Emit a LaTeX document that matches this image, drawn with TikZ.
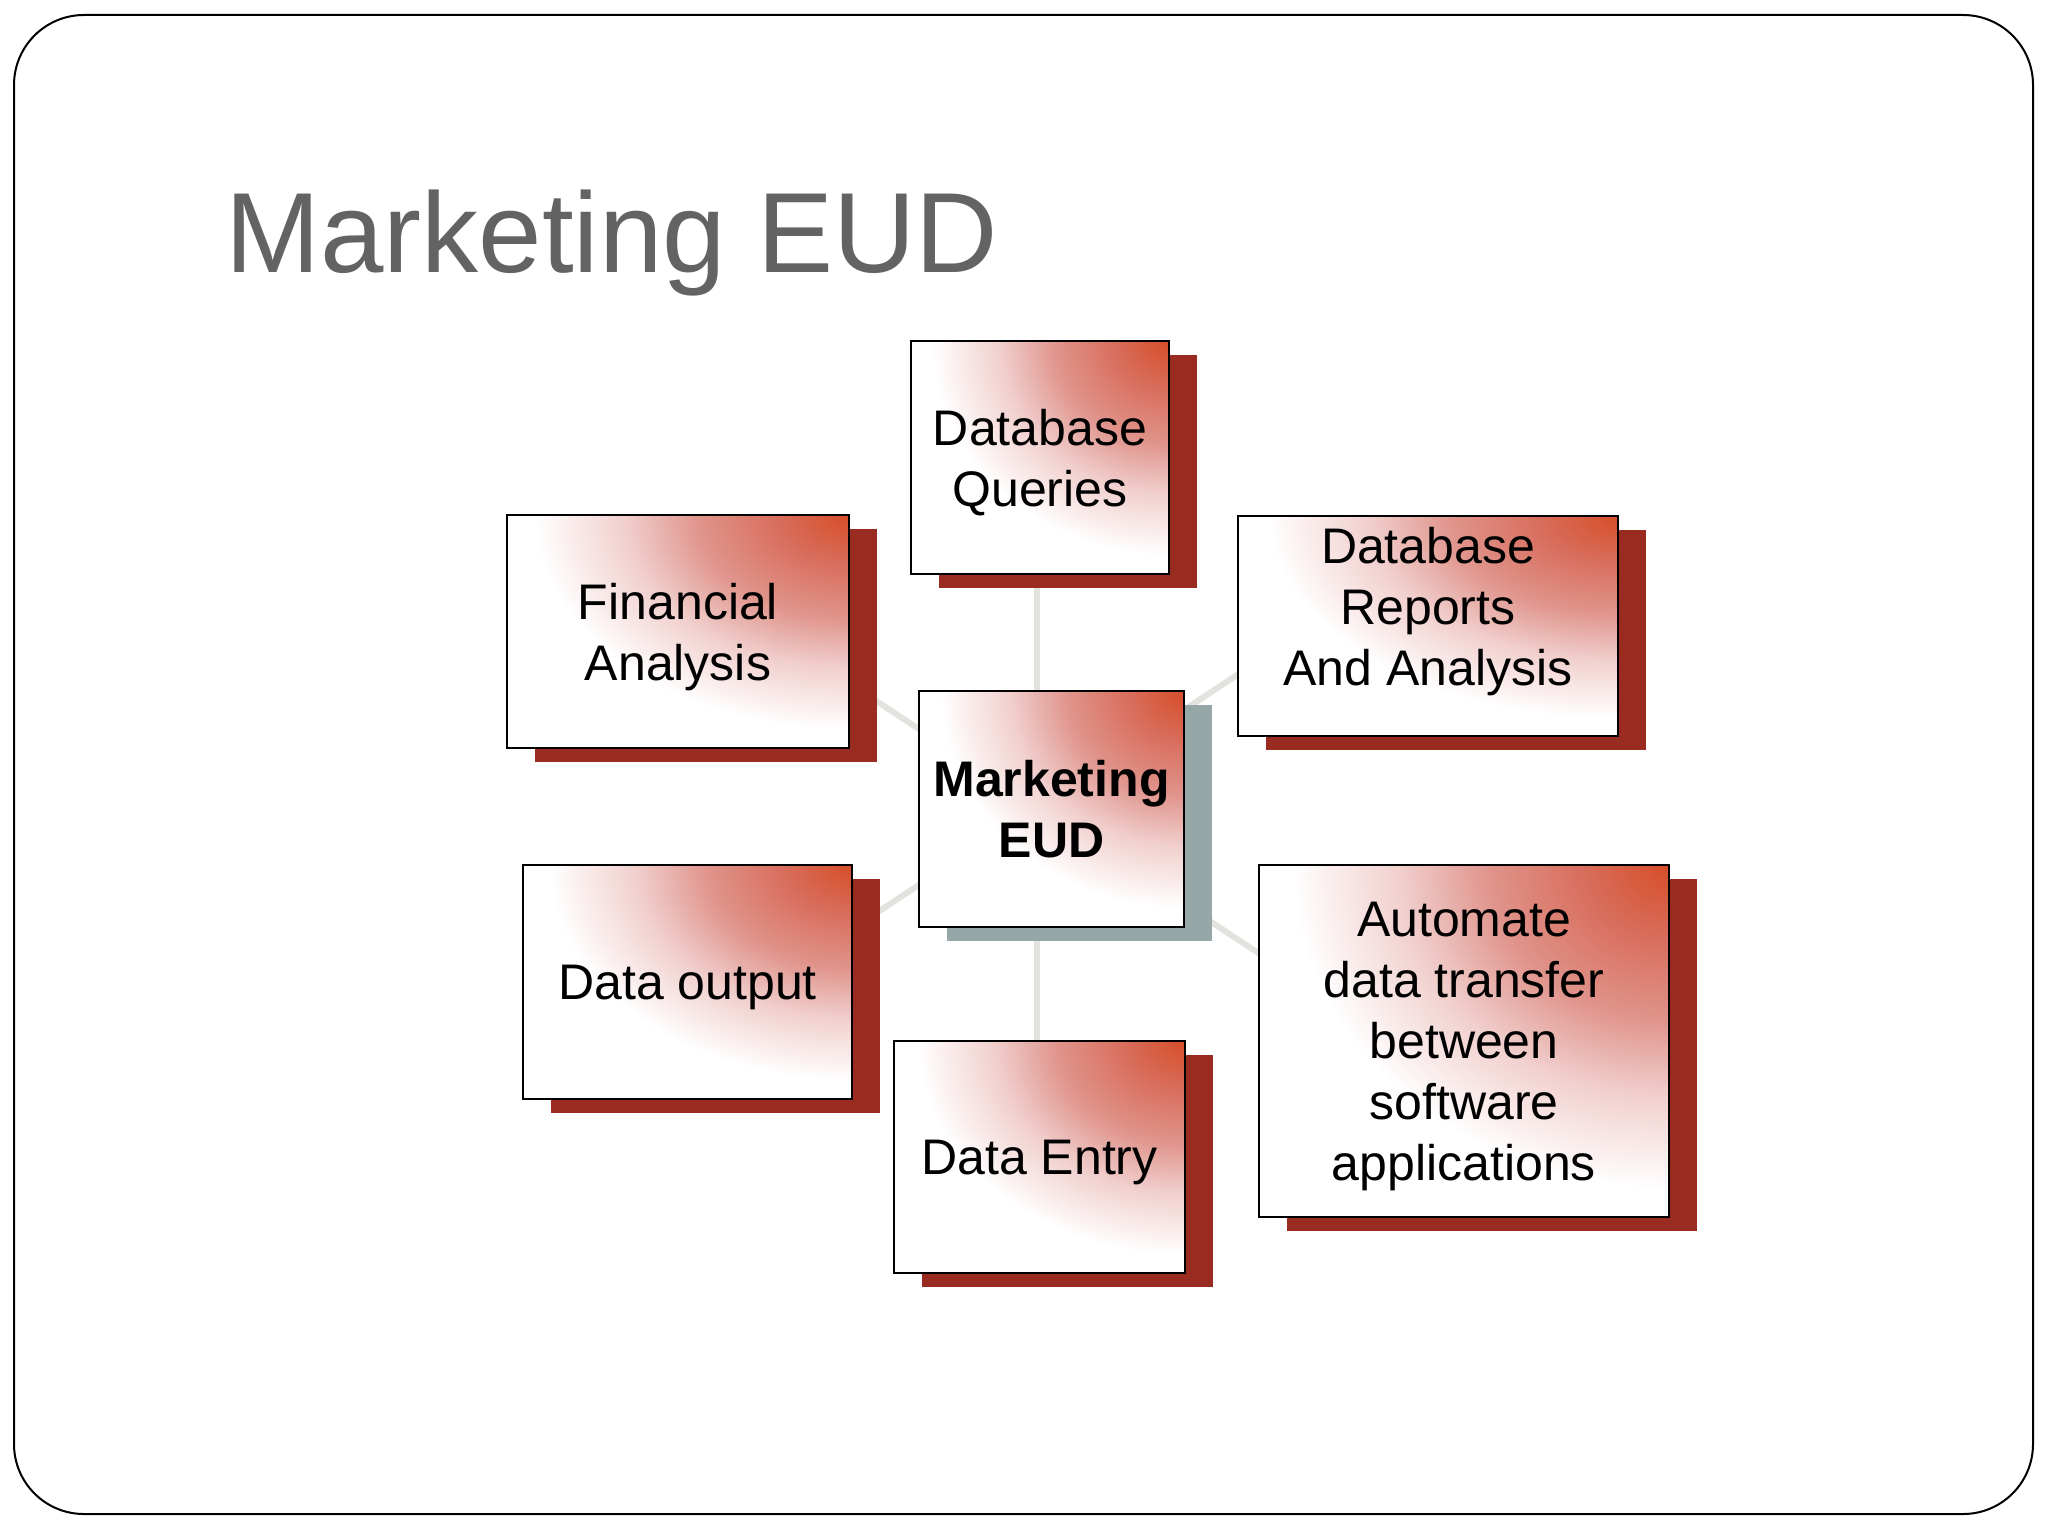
\documentclass[tikz,border=0pt]{standalone}
\usepackage{fontspec}
\setmainfont{Liberation Sans}
\usepackage{tikz}
\usetikzlibrary{backgrounds, calc, positioning, shadows}

\definecolor{glowA}{RGB}{214,78,40}
\definecolor{glowB}{RGB}{216,108,90}
\definecolor{glowC}{RGB}{224,148,140}
\definecolor{glowD}{RGB}{241,208,206}
\definecolor{boxshadow}{RGB}{154,43,32}
\definecolor{hubshadow}{RGB}{149,168,167}
\definecolor{spokegray}{RGB}{226,226,222}
\definecolor{titlegray}{RGB}{99,99,99}

\pgfdeclareradialshading{cornerglow}{\pgfpointorigin}{%
  color(0bp)=(glowA); color(5bp)=(glowB); color(11bp)=(glowC);
  color(16.5bp)=(glowD); color(23bp)=(white); color(50bp)=(white)}

\begin{document}
\begin{tikzpicture}[x=0.5pt, y=-0.5pt,
    eudbox/.style={rectangle, draw=black, line width=1pt, fill=white, inner sep=0pt, align=center,
      font=\fontsize{25}{30.5}\selectfont,
      path picture={\shade[shading=cornerglow] (path picture bounding box.south west) rectangle
        ($(path picture bounding box.south west)!2!(path picture bounding box.north east)$);}},
    taskbox/.style={eudbox, text depth=-1pt, general shadow={fill=boxshadow, shadow xshift=14pt, shadow yshift=-7pt}},
    hubbox/.style={eudbox, font=\bfseries\fontsize{25}{30.5}\selectfont,
      general shadow={fill=hubshadow, shadow xshift=14pt, shadow yshift=-7pt}},
    spokeline/.style={draw=spokegray, line width=3pt},
    titletext/.style={text=titlegray, font=\fontsize{57}{68}\selectfont, inner sep=0pt},
    ]
    \useasboundingbox (0,0) rectangle (2048,1536);
    \draw[line width=1pt, rounded corners=35pt] (14,15) rectangle (2033,1514);

    %Nodes
    \node[titletext, anchor=base west] (title) at (225,272) {Marketing EUD};
    \node[hubbox, minimum width=132.5pt, minimum height=118pt] (mkt) at (1051.5,809) {Marketing\\EUD};
    \node[taskbox, minimum width=129pt, minimum height=116.5pt] (dbq) at (1040,457.5) {Database\\Queries};
    \node[taskbox, minimum width=171pt, minimum height=116.5pt] (fin) at (678,631.5) {Financial\\Analysis};
    \node[taskbox, minimum width=190pt, minimum height=110pt, text depth=20pt] (dbr) at (1428,626) {Database\\Reports\\And Analysis};
    \node[taskbox, minimum width=164.5pt, minimum height=117pt] (out) at (687.5,982) {Data output};
    \node[taskbox, minimum width=145.5pt, minimum height=116pt] (ent) at (1039.5,1157) {Data Entry};
    \node[taskbox, minimum width=205pt, minimum height=176pt] (aut) at (1464,1041) {Automate\\data transfer\\between\\software\\applications};

    %Lines
    \coordinate (hub) at (1037,807);
    \coordinate (finend) at (787,642);
    \coordinate (dbrend) at (1287,642);
    \coordinate (outend) at (787,972);
    \coordinate (autend) at (1287,972);
    \begin{scope}[on background layer]
      \draw[spokeline] (hub) -- (hub |- dbq);
      \draw[spokeline] (hub) -- (hub |- ent);
      \draw[spokeline] (hub) -- (finend);
      \draw[spokeline] (hub) -- (dbrend);
      \draw[spokeline] (hub) -- (outend);
      \draw[spokeline] (hub) -- (autend);
    \end{scope}
\end{tikzpicture}
\end{document}
